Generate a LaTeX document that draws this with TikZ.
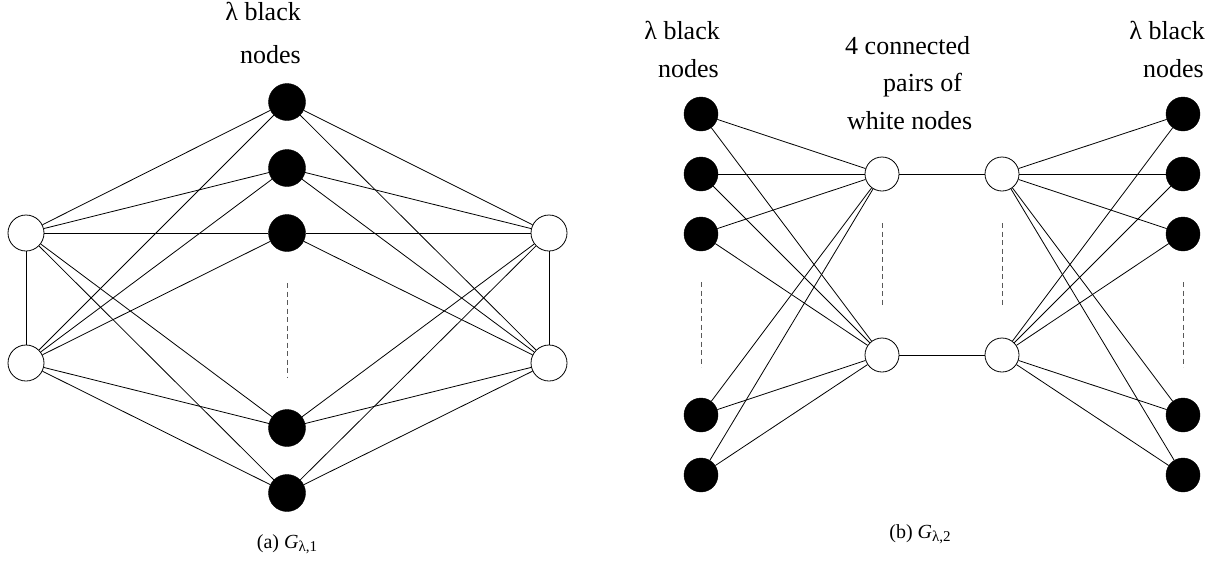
\documentclass[tikz,border=0pt]{standalone}
\usepackage{fontspec}
\setmainfont{Liberation Serif}
\newfontfamily\tms{Liberation Serif}
\newcommand\lbltext[1]{\scalebox{1.3}{\tms\fontsize{20}{24}\selectfont #1}}
\begin{document}
\begin{tikzpicture}[x=1pt,y=-1pt,
  blk/.style={circle,fill=black,draw=black,inner sep=0pt,minimum size=#1},
  blk/.default=37pt,
  wht/.style={circle,fill=white,draw=black,line width=0.8pt,inner sep=0pt,minimum size=#1},
  wht/.default=36pt,
  edge/.style={line width=0.8pt},
  dots/.style={draw=black!65,line width=0.9pt,dash pattern=on 5pt off 3.5pt},
  lbl/.style={inner sep=0pt},
  capt/.style={inner sep=0pt,font=\tms\fontsize{20}{24}\selectfont}]
\useasboundingbox (0,0) rectangle (1217,560);

% ---------- (a) ----------
\node[blk] (a1) at (287,102) {};
\node[blk] (a2) at (287,168) {};
\node[blk] (a3) at (287,233) {};
\node[blk] (a4) at (287,428) {};
\node[blk] (a5) at (287,493) {};
\node[wht] (al1) at (26,233) {};
\node[wht] (al2) at (26,363) {};
\node[wht] (ar1) at (549,233) {};
\node[wht] (ar2) at (549,363) {};
\foreach \w in {al1,al2,ar1,ar2}
  \foreach \b in {a1,a2,a3,a4,a5}
    \draw[edge] (\w) -- (\b);
\draw[edge] (al1) -- (al2);
\draw[edge] (ar1) -- (ar2);
\coordinate (ad1) at (287,283);
\coordinate (ad2) at (287,377);
\draw[dots] (ad1) -- (ad2);
\node[lbl,anchor=base east] (alab1) at (301,20) {\lbltext{λ black}};
\node[lbl,anchor=base east] (alab2) at (301,63) {\lbltext{nodes}};
\node[capt,anchor=base] (acap) at (287,548) {(a) \textit{G}\raisebox{-0.35ex}{\tms\fontsize{15}{17}\selectfont λ,1}};

% ---------- (b) ----------
\foreach \i/\y in {1/114,2/174,3/234,4/415,5/475} {
  \node[blk=34pt] (lb\i) at (701,\y) {};
  \node[blk=34pt] (rb\i) at (1183,\y) {};
}
\node[wht=34pt] (wl1) at (882,174) {};
\node[wht=34pt] (wl2) at (882,355) {};
\node[wht=34pt] (wr1) at (1002,174) {};
\node[wht=34pt] (wr2) at (1002,355) {};
\foreach \i in {1,...,5} {
  \draw[edge] (lb\i) -- (wl1);
  \draw[edge] (lb\i) -- (wl2);
  \draw[edge] (rb\i) -- (wr1);
  \draw[edge] (rb\i) -- (wr2);
}
\draw[edge] (wl1) -- (wr1);
\draw[edge] (wl2) -- (wr2);
\coordinate (bd1) at (701,282); \coordinate (bd2) at (701,367);
\coordinate (bd3) at (882,223); \coordinate (bd4) at (882,307);
\coordinate (bd5) at (1002,223); \coordinate (bd6) at (1002,307);
\coordinate (bd7) at (1183,282); \coordinate (bd8) at (1183,367);
\draw[dots] (bd1) -- (bd2);
\draw[dots] (bd3) -- (bd4);
\draw[dots] (bd5) -- (bd6);
\draw[dots] (bd7) -- (bd8);
\node[lbl,anchor=base east] (blab1) at (720,39) {\lbltext{λ black}};
\node[lbl,anchor=base east] (blab2) at (719,77) {\lbltext{nodes}};
\node[lbl,anchor=base west] (mlab1) at (845,54) {\lbltext{4 connected}};
\node[lbl,anchor=base west] (mlab2) at (883,91) {\lbltext{pairs of}};
\node[lbl,anchor=base west] (mlab3) at (847,129) {\lbltext{white nodes}};
\node[lbl,anchor=base east] (rlab1) at (1205,39) {\lbltext{λ black}};
\node[lbl,anchor=base east] (rlab2) at (1204,77) {\lbltext{nodes}};
\node[capt,anchor=base] (bcap) at (920,538) {(b) \textit{G}\raisebox{-0.35ex}{\tms\fontsize{15}{17}\selectfont λ,2}};
\end{tikzpicture}
\end{document}
